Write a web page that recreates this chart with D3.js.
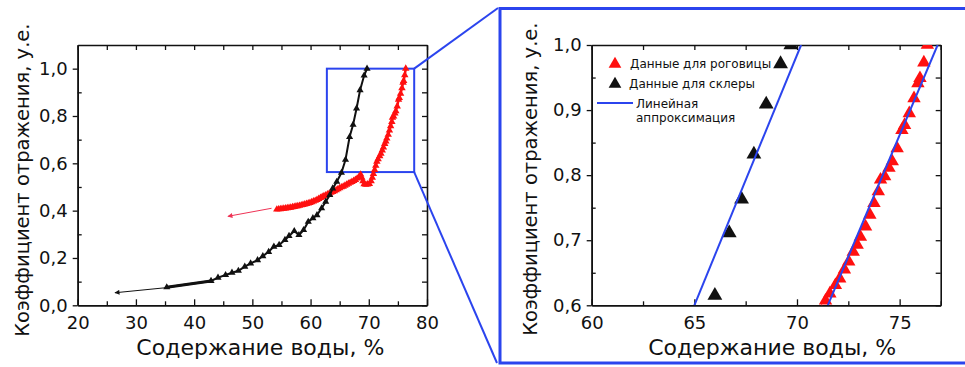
<!DOCTYPE html>
<html>
<head>
<meta charset="utf-8">
<script src="https://cdn.jsdelivr.net/npm/d3@7"></script>
<style>
  body { margin: 0; background: #fff; }
  svg { font-family: "DejaVu Sans", sans-serif; }
</style>
</head>
<body>
<svg id="chart"></svg>
<script>
const width = 965;
const height = 367;

// данные: [содержание воды, %; коэффициент отражения, у.е.]
const cornea = [
  [54.2, 0.405], [54.5, 0.406], [54.8, 0.407], [55.1, 0.408], [55.4, 0.409],
  [55.7, 0.410], [56.0, 0.411], [56.3, 0.412], [56.6, 0.413], [56.9, 0.415],
  [57.2, 0.416], [57.5, 0.418], [57.8, 0.419], [58.1, 0.421], [58.4, 0.423],
  [58.7, 0.425], [59.0, 0.427], [59.3, 0.429], [59.6, 0.431], [59.9, 0.433],
  [60.2, 0.436], [60.5, 0.439], [60.8, 0.442], [61.1, 0.446], [61.4, 0.450],
  [61.7, 0.454], [62.0, 0.458], [62.3, 0.462], [62.6, 0.465], [62.9, 0.469],
  [63.2, 0.472], [63.5, 0.476], [63.8, 0.479], [64.1, 0.483], [64.4, 0.487],
  [64.7, 0.491], [65.0, 0.495], [65.3, 0.499], [65.6, 0.502], [65.9, 0.506],
  [66.2, 0.510], [66.5, 0.514], [66.8, 0.518], [67.1, 0.522], [67.4, 0.526],
  [67.7, 0.530], [68.0, 0.536], [68.3, 0.542], [68.6, 0.553], [68.8, 0.540],
  [69.0, 0.525], [69.2, 0.512], [69.5, 0.510], [69.8, 0.511], [70.1, 0.513],
  [70.4, 0.525], [70.6, 0.540], [70.8, 0.555], [71.0, 0.572], [71.2, 0.590],
  [71.39, 0.607], [71.60, 0.618], [71.87, 0.631], [72.08, 0.641], [72.31, 0.655],
  [72.52, 0.667], [72.74, 0.682], [72.93, 0.693], [73.09, 0.705], [73.34, 0.721],
  [73.55, 0.739], [73.75, 0.757], [73.96, 0.775], [74.07, 0.793], [74.27, 0.798],
  [74.48, 0.811], [74.64, 0.821], [74.88, 0.841], [75.11, 0.869], [75.24, 0.877],
  [75.47, 0.895], [75.70, 0.918], [75.89, 0.941], [75.99, 0.949], [76.18, 0.973],
  [76.35, 1.000]
];
const sclera = [
  [35.3, 0.076], [42.9, 0.103], [44.1, 0.117], [45.4, 0.128], [46.5, 0.138],
  [47.6, 0.146], [48.7, 0.163], [49.7, 0.177], [50.9, 0.191], [51.8, 0.208],
  [52.8, 0.226], [53.7, 0.248], [54.6, 0.255], [55.6, 0.276], [56.3, 0.293],
  [57.2, 0.314], [58.0, 0.297], [58.8, 0.318], [59.6, 0.353], [60.4, 0.368],
  [61.1, 0.381], [61.9, 0.410], [62.6, 0.438], [63.3, 0.466], [63.8, 0.494],
  [64.5, 0.522], [65.3, 0.560], [66.0, 0.615], [66.7, 0.711], [67.3, 0.763],
  [67.9, 0.832], [68.5, 0.909], [69.2, 0.971], [69.7, 1.000]
];
// линейная аппроксимация (концы отрезков)
const corneaFit = [[71.5, 0.6], [76.85, 1.0]];
const scleraFit = [[65.0, 0.6], [70.2, 1.0]];
// стрелки продолжения кривых
const corneaArrow = [[53.3, 0.410], [45.8, 0.376]];
const scleraArrow = [[35.0, 0.074], [26.4, 0.053]];
// область увеличения
const zoomX = [62.8, 77.8];
const zoomY = [0.563, 1.0];

const mainXTicks = [20, 30, 40, 50, 60, 70, 80];
const mainXMinor = [25, 35, 45, 55, 65, 75];
const mainYTicks = [0, 0.2, 0.4, 0.6, 0.8, 1.0];
const mainYMinor = [0.1, 0.3, 0.5, 0.7, 0.9];
const insetXTicks = [60, 65, 70, 75];
const insetXMinor = [62.5, 67.5, 72.5, 77];
const insetYTicks = [0.6, 0.7, 0.8, 0.9, 1.0];
const insetYMinor = [0.65, 0.75, 0.85, 0.95];

const legendLabels = ['Данные для роговицы', 'Данные для склеры', 'Линейная', 'аппроксимация'];
const xTitle = 'Содержание воды, %';
const yTitle = 'Коэффициент отражения, у.е.';

const blue = '#2b44ee';
const red = '#ff1010';

const svg = d3.select('#chart')
  .attr('width', width)
  .attr('height', height);

const defs = svg.append('defs');
function arrowMarker(id, color) {
  defs.append('marker')
    .attr('id', id)
    .attr('viewBox', '0 0 10 10')
    .attr('refX', 9).attr('refY', 5)
    .attr('markerWidth', 7).attr('markerHeight', 5)
    .attr('orient', 'auto')
    .append('path')
    .attr('d', 'M0,0L10,5L0,10Z')
    .attr('fill', color);
}
arrowMarker('arrRed', '#ee3355');
arrowMarker('arrBlack', '#111');

const comma = (d) => d3.format('.1f')(d).replace('.', ',');

// общая рамка с осями
function panel(id, box, xDomain, yDomain, t) {
  const x = d3.scaleLinear().domain(xDomain).range([box.left, box.right]);
  const y = d3.scaleLinear().domain(yDomain).range([box.bottom, box.top]);
  const g = svg.append('g').attr('id', id);

  defs.append('clipPath').attr('id', id + '_clip')
    .append('rect')
    .attr('x', box.left).attr('y', box.top)
    .attr('width', box.right - box.left).attr('height', box.bottom - box.top);

  const axes = g.append('g').attr('class', 'axes');
  const styleAxis = (a) => {
    a.selectAll('path').attr('stroke', '#111').attr('stroke-width', 1.6);
    a.selectAll('line').attr('stroke', '#111').attr('stroke-width', 1.3);
    a.selectAll('text').attr('font-size', 18).attr('fill', '#111')
      .attr('font-family', '"DejaVu Sans", sans-serif');
  };
  // нижняя
  axes.append('g').attr('transform', `translate(0,${box.bottom})`)
    .call(d3.axisBottom(x).tickValues(t.x).tickFormat(t.xf).tickSizeInner(-6).tickSizeOuter(0).tickPadding(11))
    .call(styleAxis);
  axes.append('g').attr('transform', `translate(0,${box.bottom})`)
    .call(d3.axisBottom(x).tickValues(t.xm).tickFormat('').tickSizeInner(-4).tickSizeOuter(0))
    .call(styleAxis);
  // верхняя
  axes.append('g').attr('transform', `translate(0,${box.top})`)
    .call(d3.axisTop(x).tickValues(t.x.concat(t.xm)).tickFormat('').tickSizeInner(-5).tickSizeOuter(0))
    .call(styleAxis);
  // левая
  axes.append('g').attr('transform', `translate(${box.left},0)`)
    .call(d3.axisLeft(y).tickValues(t.y).tickFormat(comma).tickSizeInner(5).tickSizeOuter(0).tickPadding(5))
    .call(styleAxis);
  axes.append('g').attr('transform', `translate(${box.left},0)`)
    .call(d3.axisLeft(y).tickValues(t.ym).tickFormat('').tickSizeInner(-4).tickSizeOuter(0))
    .call(styleAxis);
  // правая
  axes.append('g').attr('transform', `translate(${box.right},0)`)
    .call(d3.axisRight(y).tickValues(t.y.concat(t.ym)).tickFormat('').tickSizeInner(-5).tickSizeOuter(0))
    .call(styleAxis);

  // подписи осей
  g.append('text')
    .attr('x', (box.left + box.right) / 2 + t.xTitleDx)
    .attr('y', box.bottom + 50)
    .attr('text-anchor', 'middle')
    .attr('font-size', 22)
    .attr('fill', '#111')
    .text(xTitle);
  g.append('text')
    .attr('transform', `translate(${box.left + t.yTitleDx},${(box.top + box.bottom) / 2 + t.yTitleDy}) rotate(-90)`)
    .attr('text-anchor', 'middle')
    .attr('font-size', 19.5)
    .attr('fill', '#111')
    .text(yTitle);

  const plot = g.append('g').attr('clip-path', `url(#${id}_clip)`);
  return { x, y, g, plot };
}

// ---------- основной график ----------
const main = panel('main', { left: 77.7, right: 427, top: 45, bottom: 305.3 }, [20, 80], [0, 1.1],
  { x: mainXTicks, xm: mainXMinor, y: mainYTicks, ym: mainYMinor, xf: d3.format('d'),
    xTitleDx: 8, yTitleDx: -49, yTitleDy: 5 });

const mLine = d3.line().x((d) => main.x(d[0])).y((d) => main.y(d[1]));

main.plot.append('rect')
  .attr('x', main.x(zoomX[0])).attr('y', main.y(zoomY[1]))
  .attr('width', main.x(zoomX[1]) - main.x(zoomX[0]))
  .attr('height', main.y(zoomY[0]) - main.y(zoomY[1]))
  .attr('fill', 'none').attr('stroke', blue).attr('stroke-width', 2);

main.plot.append('path').datum(corneaArrow)
  .attr('d', mLine).attr('fill', 'none').attr('stroke', '#ee3355').attr('stroke-width', 1)
  .attr('marker-end', 'url(#arrRed)');
main.plot.append('path').datum(scleraArrow)
  .attr('d', mLine).attr('fill', 'none').attr('stroke', '#111').attr('stroke-width', 1)
  .attr('marker-end', 'url(#arrBlack)');

main.plot.append('path').datum(cornea)
  .attr('d', mLine).attr('fill', 'none').attr('stroke', red).attr('stroke-width', 2.5);
main.plot.selectAll('.cm').data(cornea).join('path')
  .attr('class', 'cm')
  .attr('transform', (d) => `translate(${main.x(d[0])},${main.y(d[1])})`)
  .attr('d', d3.symbol(d3.symbolTriangle, 24))
  .attr('fill', red);

main.plot.append('path').datum(sclera)
  .attr('d', mLine).attr('fill', 'none').attr('stroke', '#111').attr('stroke-width', 2);
main.plot.append('path').datum(sclera.slice(0, 2))
  .attr('d', mLine).attr('fill', 'none').attr('stroke', '#111').attr('stroke-width', 3);
main.plot.selectAll('.sm').data(sclera).join('path')
  .attr('class', 'sm')
  .attr('transform', (d) => `translate(${main.x(d[0])},${main.y(d[1])})`)
  .attr('d', d3.symbol(d3.symbolTriangle, 22))
  .attr('fill', '#111');

// ---------- увеличенный фрагмент ----------
svg.append('rect')
  .attr('x', 500).attr('y', 8.5)
  .attr('width', 500).attr('height', 354.5)
  .attr('fill', 'none').attr('stroke', blue).attr('stroke-width', 3);

svg.append('line')
  .attr('x1', main.x(zoomX[1])).attr('y1', main.y(zoomY[1]))
  .attr('x2', 498).attr('y2', 8)
  .attr('stroke', blue).attr('stroke-width', 2);
svg.append('line')
  .attr('x1', main.x(zoomX[1])).attr('y1', main.y(zoomY[0]))
  .attr('x2', 497).attr('y2', 363)
  .attr('stroke', blue).attr('stroke-width', 2);

const inset = panel('inset', { left: 591.7, right: 940.7, top: 45, bottom: 305.3 }, [60, 77], [0.6, 1.0],
  { x: insetXTicks, xm: insetXMinor, y: insetYTicks, ym: insetYMinor, xf: d3.format('d'),
    xTitleDx: 6, yTitleDx: -55, yTitleDy: 4 });

const iLine = d3.line().x((d) => inset.x(d[0])).y((d) => inset.y(d[1]));

inset.plot.selectAll('.ci').data(cornea).join('path')
  .attr('class', 'ci')
  .attr('transform', (d) => `translate(${inset.x(d[0])},${inset.y(d[1])})`)
  .attr('d', d3.symbol(d3.symbolTriangle, 78))
  .attr('fill', red);
inset.plot.selectAll('.si').data(sclera).join('path')
  .attr('class', 'si')
  .attr('transform', (d) => `translate(${inset.x(d[0])},${inset.y(d[1])})`)
  .attr('d', d3.symbol(d3.symbolTriangle, 95))
  .attr('fill', '#111');

[corneaFit, scleraFit].forEach((f) => {
  inset.plot.append('path').datum(f)
    .attr('d', iLine).attr('fill', 'none').attr('stroke', blue).attr('stroke-width', 2);
});

// легенда
const legend = svg.append('g').attr('id', 'legend').attr('font-size', 12).attr('fill', '#111');
legend.append('path')
  .attr('transform', 'translate(615,64)')
  .attr('d', d3.symbol(d3.symbolTriangle, 70)).attr('fill', red);
legend.append('path')
  .attr('transform', 'translate(615,84)')
  .attr('d', d3.symbol(d3.symbolTriangle, 70)).attr('fill', '#111');
legend.append('line')
  .attr('x1', 597).attr('x2', 633).attr('y1', 103).attr('y2', 103)
  .attr('stroke', blue).attr('stroke-width', 2);
legend.append('text').attr('x', 630).attr('y', 68).text(legendLabels[0]);
legend.append('text').attr('x', 629).attr('y', 88).text(legendLabels[1]);
legend.append('text').attr('x', 636).attr('y', 108).text(legendLabels[2]);
legend.append('text').attr('x', 636).attr('y', 122).text(legendLabels[3]);
</script>
</body>
</html>
